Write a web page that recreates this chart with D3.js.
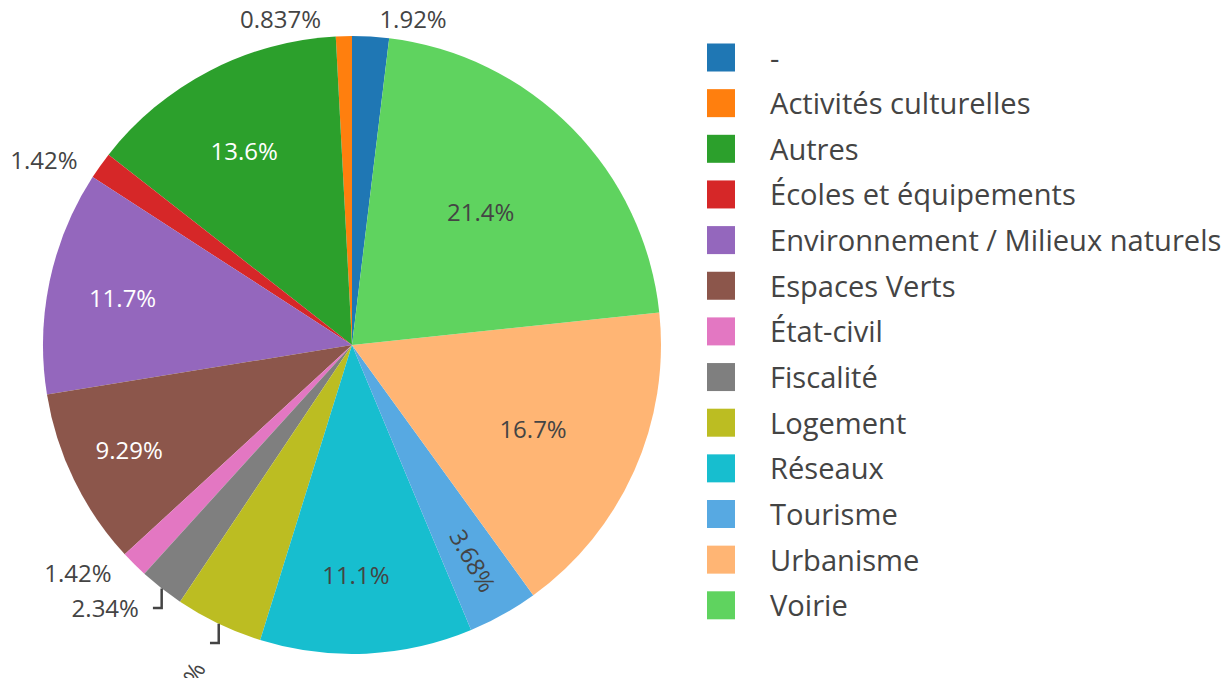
<!DOCTYPE html>
<html>
<head>
<meta charset="utf-8">
<style>
  body { margin: 0; background: #fff; }
  text { font-family: "Open Sans", verdana, arial, sans-serif; fill: #444; }
</style>
</head>
<body>
<svg id="chart" width="1225" height="678"></svg>
<script src="https://d3js.org/d3.v7.min.js"></script>
<script>
const categories = ["-", "Activités culturelles", "Autres", "Écoles et équipements",
  "Environnement / Milieux naturels", "Espaces Verts", "État-civil", "Fiscalité",
  "Logement", "Réseaux", "Tourisme", "Urbanisme", "Voirie"];
const shares = [1.92, 0.837, 13.6, 1.42, 11.7, 9.29, 1.42, 2.34, 4.59, 11.1, 3.68, 16.7, 21.4];
// slices whose label sits outside the pie
const outsideLabels = ["-", "Activités culturelles", "Écoles et équipements", "État-civil", "Fiscalité", "Logement"];

const cx = 352, cy = 345, R = 309;
const fontSize = 24, legendFont = 29.1;
const boxPad = 14, labelH = 35;

// category10, then the same colours lightened for the second round
const colors = categories.map((c, i) => {
  if (i < 10) return d3.schemeCategory10[i];
  const h = d3.hsl(d3.schemeCategory10[i - 10]);
  h.l += 0.2;
  return h.formatHex();
});

const svg = d3.select("#chart");
const total = d3.sum(shares);
const a0 = 2 * Math.PI * shares[0] / total;
const pie = d3.pie().sort(null).value(d => d).startAngle(a0).endAngle(a0 - 2 * Math.PI);
const arcs = pie(shares);
const arc = d3.arc().innerRadius(0).outerRadius(R);

const body = svg.append("g").attr("transform", `translate(${cx},${cy})`);
body.selectAll("path.slice")
  .data(arcs)
  .join("path")
  .attr("class", "slice")
  .attr("d", arc)
  .attr("fill", (d, i) => colors[i]);

const fmt = d3.format(".3r");
const probe = svg.append("text").style("font-size", fontSize + "px");
function textWidth(s) { probe.text(s); return probe.node().getComputedTextLength(); }

function isLight(c) {
  const r = d3.rgb(c);
  return (r.r * 299 + r.g * 587 + r.b * 114) / 1000 > 128;
}
function upright(deg) {
  let r = ((deg % 360) + 540) % 360 - 180;
  if (r > 90) r -= 180;
  if (r < -90) r += 180;
  return r;
}
function maxHalfSize(a, half, r) {
  const q = a + 1 / (2 * Math.tan(half));
  return r * Math.min(1 / (Math.sqrt(q * q + 0.5) + q), 1 / (Math.sqrt(a * a + 0.5) + a));
}

const labels = arcs.map((d, i) => {
  const txt = fmt(d.value / total * 100) + "%";
  const w = textWidth(txt) + boxPad;
  const mid = (d.startAngle + d.endAngle) / 2;
  const half = Math.abs(d.endAngle - d.startAngle) / 2;
  const px = R * Math.sin(mid), py = -R * Math.cos(mid);
  const lab = { i, txt, w, mid, px, py, rot: 0 };
  if (outsideLabels.includes(categories[i])) {
    const dx = px < 0 ? -w / 2 : w / 2;
    const dy = py < 0 ? -labelH / 2 : labelH / 2;
    lab.outside = true;
    lab.x = px + dx + Math.abs(dy) * Math.sign(dx) / 2;
    lab.y = py + dy / (1 + px * px / (py * py));
    lab.color = "#444";
  } else {
    const rIns = Math.min(1 / (1 + 1 / Math.sin(half)), 0.5);
    const scale = rIns * R * 2 / Math.hypot(w, labelH);
    let rc = 1 - rIns;
    if (scale < 1) {
      const r2 = R - 6;
      const s = maxHalfSize(w / labelH, half, r2);
      rc = Math.cos(s / r2) - (w / labelH) * s / r2;
      lab.rot = upright(mid * 180 / Math.PI - 90);
    }
    lab.x = px * rc;
    lab.y = py * rc;
    lab.color = isLight(colors[i]) ? "#444" : "#fff";
  }
  return lab;
});
probe.remove();

// push the lower-left outside labels apart
const lowerLeft = labels.filter(l => l.outside && l.px < 0 && l.py > 0).sort((a, b) => a.y - b.y);
for (let k = 1; k < lowerLeft.length; k++) {
  const prev = lowerLeft[k - 1], cur = lowerLeft[k];
  if (cur.y < prev.y + labelH) { cur.y = prev.y + labelH; cur.moved = true; }
}

labels.filter(l => l.moved).forEach(l => {
  const endX = l.x + l.w / 2;
  body.append("path")
    .attr("d", `M${l.px},${l.py}V${l.y}H${endX}`)
    .attr("fill", "none")
    .attr("stroke", "#444")
    .attr("stroke-width", 2.5);
  // the label that runs off the bottom edge gets turned along its radius
  if (l.y > R * 0.95) {
    const rr = R + 2 * labelH;
    l.x = rr * Math.sin(l.mid) - 2;
    l.y = -rr * Math.cos(l.mid) + 1;
    l.rot = upright(l.mid * 180 / Math.PI - 90);
  }
});

body.selectAll("text.lbl")
  .data(labels)
  .join("text")
  .attr("class", "lbl")
  .attr("transform", d => `translate(${d.x},${d.y}) rotate(${d.rot})`)
  .attr("x", d => -d.w / 2)
  .attr("y", fontSize * 0.38)
  .style("font-size", fontSize + "px")
  .style("fill", d => d.color)
  .text(d => d.txt);

// legend
const rowY = d3.scalePoint().domain(categories).range([57.5, 57.5 + 45.65 * (categories.length - 1)]);
const legend = svg.append("g").attr("transform", "translate(707,0)");
const rows = legend.selectAll("g").data(categories).join("g")
  .attr("transform", d => `translate(0,${rowY(d)})`);
rows.append("rect").attr("x", 0).attr("y", -14).attr("width", 28).attr("height", 28)
  .attr("fill", (d, i) => colors[i]);
rows.append("text").attr("x", 63).attr("y", 11)
  .style("font-size", legendFont + "px")
  .text(d => d);
</script>
</body>
</html>
